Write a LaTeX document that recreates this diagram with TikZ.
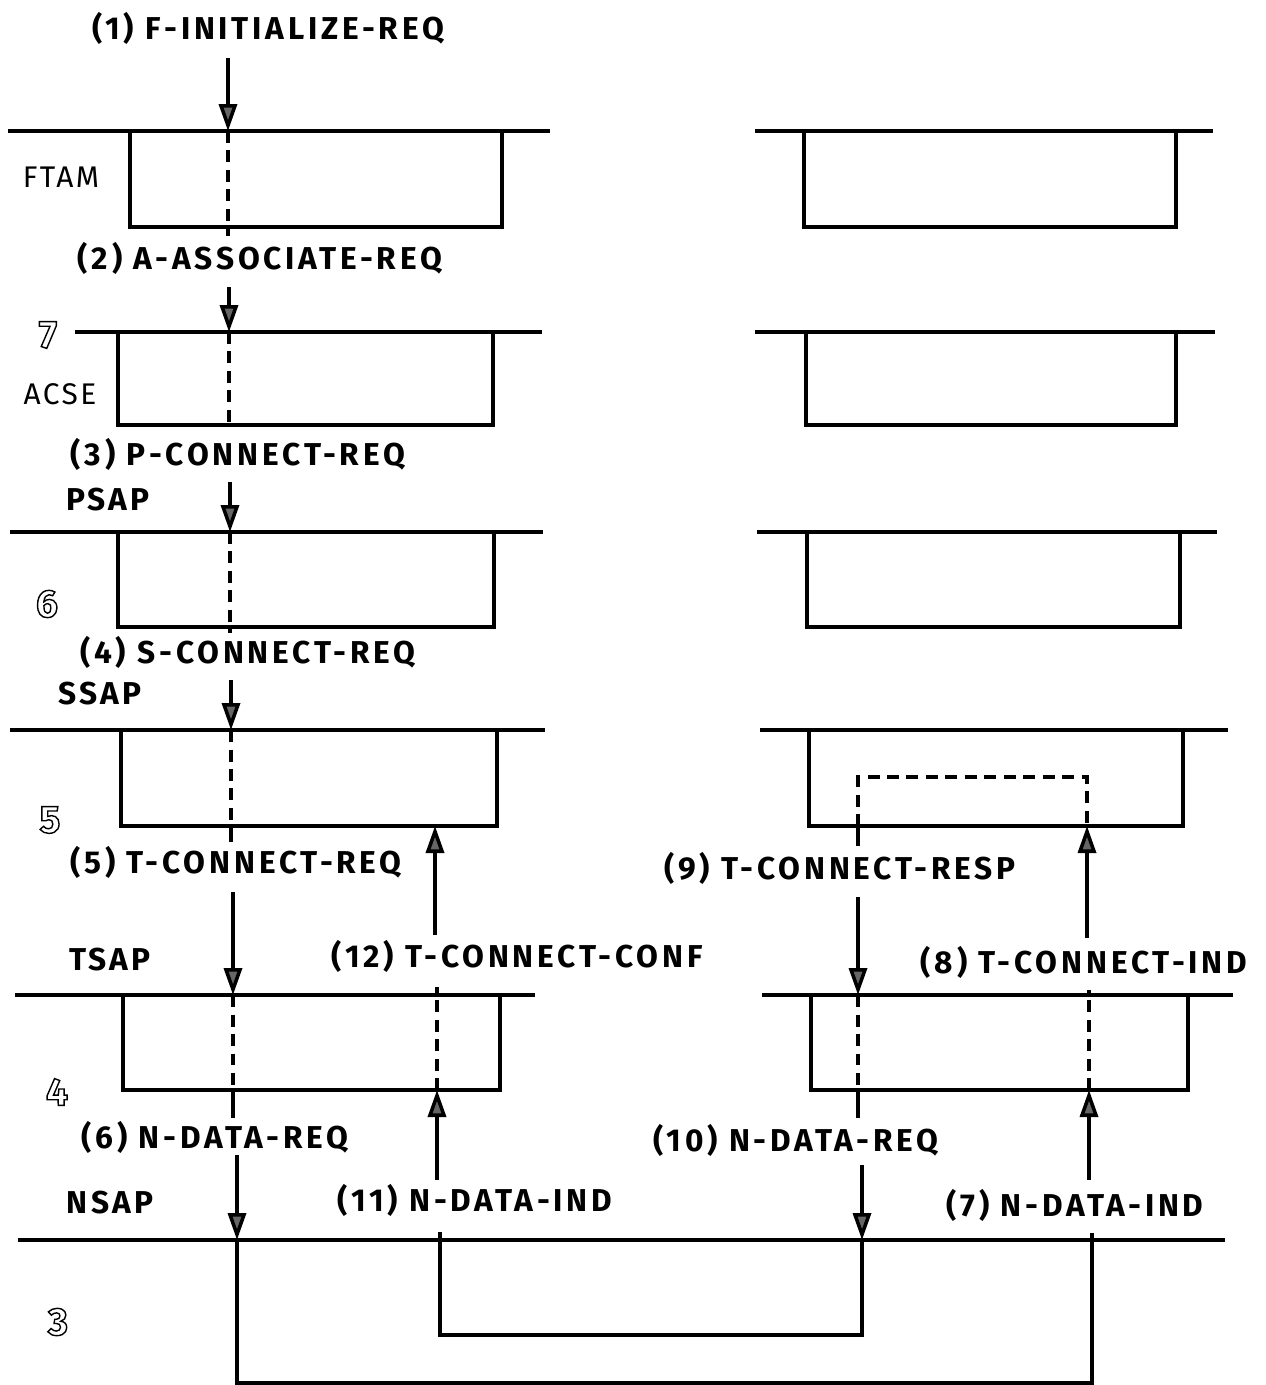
\documentclass[tikz,border=0pt]{standalone}
\usepackage{fontspec}
\setmainfont{Fira Sans}
\usetikzlibrary{arrows.meta}
\newcommand{\LayerRow}[6]{%
  \draw[layerline] (#3,#1) -- (#4,#1);
  \draw[layerline] (#5,#1) |- (#6,#2) -- (#6,#1);
}
\newcommand{\HollowNum}[1]{%
  \special{pdf:literal direct 1 Tr 0.8 w}#1\special{pdf:literal direct 0 Tr}}

\begin{document}
\begin{tikzpicture}[x=0.02cm, y=-0.02cm,
  layerline/.style={line width=1.8pt},
  flowline/.style={line width=2pt},
  passline/.style={line width=2pt, dash pattern=on 0.24cm off 0.15cm},
  downarrow/.style={flowline, -{Triangle[length=0.54cm, width=0.36cm, fill=black!60]}},
  primlabel/.style={font=\fontsize{18}{20}\selectfont\bfseries\addfontfeature{LetterSpace=12}, inner sep=0pt},
  saplabel/.style={font=\fontsize{18}{20}\selectfont\bfseries\addfontfeature{LetterSpace=10}, inner sep=0pt},
  entlabel/.style={font=\fontsize{17}{20}\selectfont\addfontfeature{LetterSpace=8}, inner sep=0pt},
  laynum/.style={font=\fontsize{22}{24}\selectfont\bfseries, inner sep=0pt}]

\useasboundingbox (0,0) rectangle (1265,1385);

% ---------------- layer rows (line + entity box, left and right system) ----------------
% FTAM
\LayerRow{131}{227}{8}{550}{130}{502}
\LayerRow{131}{227}{755}{1213}{804}{1176}
% ACSE (layer 7)
\LayerRow{332}{425}{75}{542}{118}{493}
\LayerRow{332}{425}{755}{1215}{806}{1176}
% layer 6
\LayerRow{532}{627}{10}{543}{118}{494}
\LayerRow{532}{627}{757}{1217}{807}{1180}
% layer 5
\LayerRow{730}{826}{10}{545}{121}{497}
\LayerRow{730}{826}{760}{1228}{809}{1183}
% layer 4
\LayerRow{995}{1090}{15}{535}{123}{500}
\LayerRow{995}{1090}{762}{1233}{811}{1188}
% layer 3 (network service boundary)
\draw[layerline] (18,1240) -- (1225,1240);

% ---------------- layer names and numbers ----------------
\node[entlabel] (ftam) at (61,177) {FTAM};
\node[entlabel] (acse) at (60,394) {ACSE};
\node[laynum] (num7) at (48,335) {\HollowNum{7}};
\node[laynum] (num6) at (47,604) {\HollowNum{6}};
\node[laynum] (num5) at (50,820) {\HollowNum{5}};
\node[laynum] (num4) at (57,1092) {\HollowNum{4}};
\node[laynum] (num3) at (58,1322) {\HollowNum{3}};

\node[saplabel] (psap) at (108,500) {PSAP};
\node[saplabel] (ssap) at (100,694) {SSAP};
\node[saplabel] (tsap) at (110,960) {TSAP};
\node[saplabel] (nsap) at (110,1203) {NSAP};

% ---------------- service primitives ----------------
\node[primlabel] (prim1) at (268,28) {(1) F-INITIALIZE-REQ};
\node[primlabel] (prim2) at (260,258) {(2) A-ASSOCIATE-REQ};
\node[primlabel] (prim3) at (238,454) {(3) P-CONNECT-REQ};
\node[primlabel] (prim4) at (248,652) {(4) S-CONNECT-REQ};
\node[primlabel] (prim5) at (236,862) {(5) T-CONNECT-REQ};
\node[primlabel] (prim6) at (215,1137) {(6) N-DATA-REQ};
\node[primlabel] (prim7) at (1075,1205) {(7) N-DATA-IND};
\node[primlabel] (prim8) at (1084,962) {(8) T-CONNECT-IND};
\node[primlabel] (prim9) at (840,868) {(9) T-CONNECT-RESP};
\node[primlabel] (prim10) at (796,1140) {(10) N-DATA-REQ};
\node[primlabel] (prim11) at (475,1200) {(11) N-DATA-IND};
\node[primlabel] (prim12) at (517,956) {(12) T-CONNECT-CONF};

% ---------------- calling side, downward path ----------------
\coordinate (a1) at (228,58);   \coordinate (b1) at (228,131);
\coordinate (c1) at (228,227);  \coordinate (d1) at (228,236);
\coordinate (a2) at (229,287);  \coordinate (b2) at (229,332);
\coordinate (c2) at (229,425);  \coordinate (d2) at (229,431);
\coordinate (a3) at (230,482);  \coordinate (b3) at (230,532);
\coordinate (c3) at (230,627);  \coordinate (d3) at (230,633);
\coordinate (a4) at (231,680);  \coordinate (b4) at (231,730);
\coordinate (c4) at (231,826);  \coordinate (d4) at (231,842);
\coordinate (a5) at (233,892);  \coordinate (b5) at (233,995);
\coordinate (c5) at (233,1090); \coordinate (d5) at (233,1118);
\coordinate (a6) at (237,1155); \coordinate (b6) at (237,1240);

\draw[downarrow] (a1) -- (b1);
\draw[passline] (b1) -- (c1);
\draw[flowline] (c1) -- (d1);
\draw[downarrow] (a2) -- (b2);
\draw[passline] (b2) -- (c2);
\draw[downarrow] (a3) -- (b3);
\draw[passline] (b3) -- (c3);
\draw[flowline] (c3) -- (d3);
\draw[downarrow] (a4) -- (b4);
\draw[passline] (b4) -- (c4);
\draw[flowline] (c4) -- (d4);
\draw[downarrow] (a5) -- (b5);
\draw[passline] (b5) -- (c5);
\draw[flowline] (c5) -- (d5);
\draw[downarrow] (a6) -- (b6);

% ---------------- calling side, confirm path ----------------
\coordinate (p11) at (437,1180); \coordinate (q11) at (437,1090);
\coordinate (r11) at (437,987);
\coordinate (p12) at (435,935);  \coordinate (q12) at (435,826);
\coordinate (s11) at (440,1232);

\draw[downarrow] (p11) -- (q11);
\draw[passline] (q11) -- (r11);
\draw[downarrow] (p12) -- (q12);

% ---------------- called side ----------------
\coordinate (tl) at (858,777);   \coordinate (tr) at (1087,777);
\coordinate (c8) at (858,826);   \coordinate (d8) at (858,846);
\coordinate (a9) at (858,897);   \coordinate (b9) at (858,995);
\coordinate (c9) at (858,1090);  \coordinate (d9) at (858,1118);
\coordinate (a10) at (862,1165); \coordinate (b10) at (862,1240);

\coordinate (p7) at (1089,1180); \coordinate (q7) at (1089,1090);
\coordinate (r7) at (1089,990);
\coordinate (p8) at (1087,938);  \coordinate (q8) at (1087,826);
\coordinate (s7) at (1092,1233);

% session loop (response turns back downward)
\draw[passline] (c8) -- (tl) -- (tr) -- (q8);
\draw[flowline] (c8) -- (d8);
\draw[downarrow] (a9) -- (b9);
\draw[passline] (b9) -- (c9);
\draw[flowline] (c9) -- (d9);
\draw[downarrow] (a10) -- (b10);

\draw[downarrow] (p7) -- (q7);
\draw[passline] (q7) -- (r7);
\draw[downarrow] (p8) -- (q8);

% ---------------- network connections ----------------
\draw[flowline] (b6) -- (237,1383) -| (s7);
\draw[flowline] (s11) -- (440,1335) -| (b10);

\end{tikzpicture}
\end{document}
